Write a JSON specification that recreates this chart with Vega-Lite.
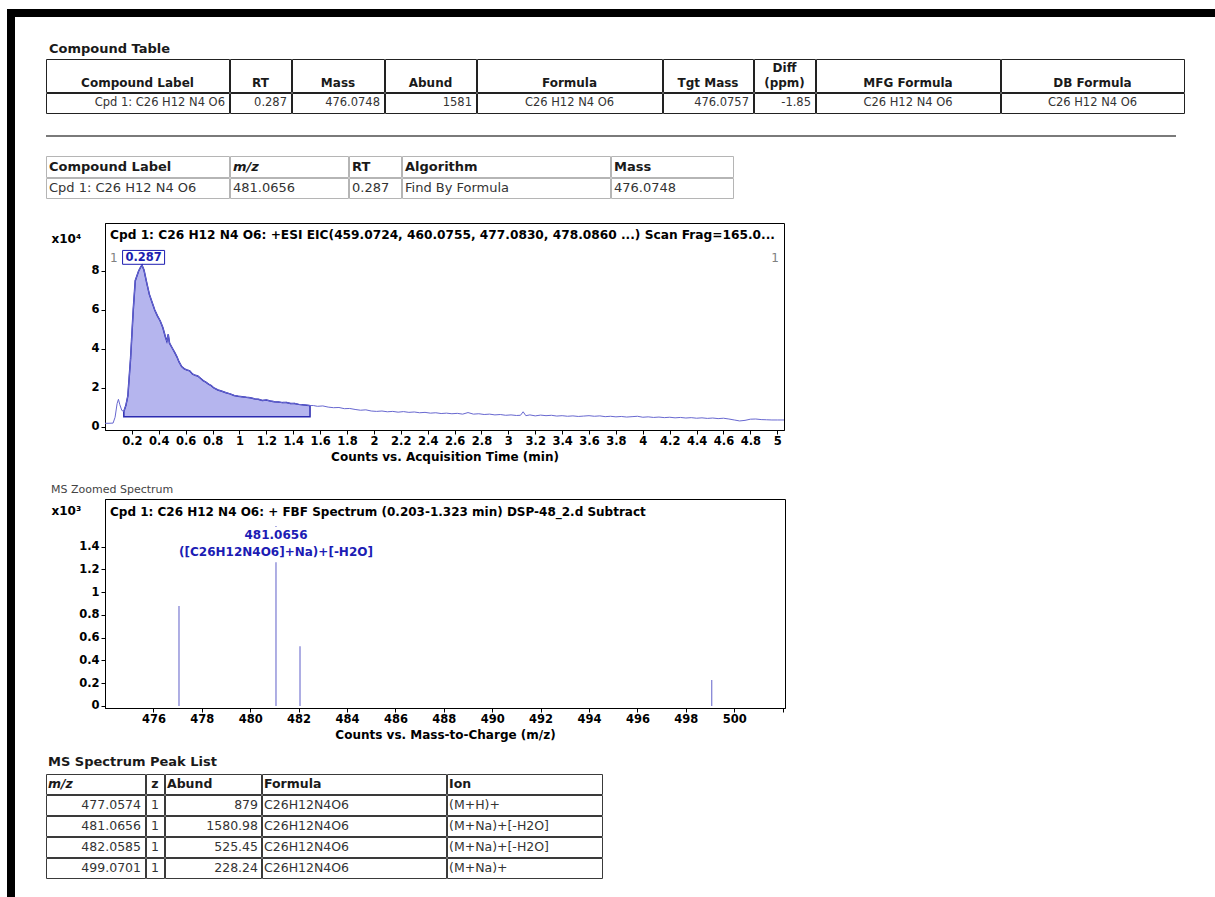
{
"$schema": "https://vega.github.io/schema/vega-lite/v6.json",
"background": "white",
"padding": {"left": 7, "top": 9, "right": 0, "bottom": 0},
"spacing": 0,
"config": {
 "view": {"stroke": "#3a3a3a", "strokeWidth": 1},
 "axis": {"labelFont": "DejaVu Sans", "labelFontWeight": "bold", "labelFontSize": 11.5, "labelColor": "#000", "titleFont": "DejaVu Sans", "titleFontWeight": "bold", "titleFontSize": 12, "titleColor": "#000", "tickColor": "#000", "domainColor": "#000", "grid": false, "tickSize": 4, "labelOverlap": false, "labelFlush": false},
 "style": {
  "sect": {"font": "DejaVu Sans", "fontSize": 13, "fontWeight": "bold", "color": "#1a1a1a", "fill": "#1a1a1a"},
  "note": {"font": "DejaVu Sans", "fontSize": 11, "color": "#444444", "fill": "#444444"},
  "th1": {"font": "DejaVu Sans", "fontSize": 12, "fontWeight": "bold", "color": "#1a1a1a", "fill": "#1a1a1a"},
  "td1": {"font": "DejaVu Sans", "fontSize": 11.5, "color": "#333333", "fill": "#333333"},
  "th2": {"font": "DejaVu Sans", "fontSize": 13, "fontWeight": "bold", "color": "#1a1a1a", "fill": "#1a1a1a"},
  "td2": {"font": "DejaVu Sans", "fontSize": 13, "color": "#333333", "fill": "#333333"},
  "th3": {"font": "DejaVu Sans", "fontSize": 12.5, "fontWeight": "bold", "color": "#1a1a1a", "fill": "#1a1a1a"},
  "td3": {"font": "DejaVu Sans", "fontSize": 12.5, "color": "#333333", "fill": "#333333"}
 }
},
"datasets": {
 "cpd": [{"label": "Cpd 1: C26 H12 N4 O6", "rt": 0.287, "mass": 476.0748, "abund": 1581, "formula": "C26 H12 N4 O6", "tgt_mass": 476.0757, "diff_ppm": -1.85, "mfg_formula": "C26 H12 N4 O6", "db_formula": "C26 H12 N4 O6", "mz": 481.0656, "algorithm": "Find By Formula"}],
 "peaks": [
  {"mz": 477.0574, "z": 1, "abund": 879, "formula": "C26H12N4O6", "ion": "(M+H)+"},
  {"mz": 481.0656, "z": 1, "abund": 1580.98, "formula": "C26H12N4O6", "ion": "(M+Na)+[-H2O]", "label": "([C26H12N4O6]+Na)+[-H2O]"},
  {"mz": 482.0585, "z": 1, "abund": 525.45, "formula": "C26H12N4O6", "ion": "(M+Na)+[-H2O]"},
  {"mz": 499.0701, "z": 1, "abund": 228.24, "formula": "C26H12N4O6", "ion": "(M+Na)+"}
 ],
 "eic": [
  {"time": 0, "counts": 1900}, {"time": 0.03, "counts": 1900}, {"time": 0.06, "counts": 2000}, {"time": 0.075, "counts": 5000},
  {"time": 0.09, "counts": 12000}, {"time": 0.1, "counts": 14200}, {"time": 0.11, "counts": 11500}, {"time": 0.125, "counts": 8500},
  {"time": 0.14, "counts": 8000}, {"time": 0.155, "counts": 11000}, {"time": 0.17, "counts": 16000}, {"time": 0.19, "counts": 35000},
  {"time": 0.21, "counts": 60000}, {"time": 0.225, "counts": 75000}, {"time": 0.25, "counts": 80000}, {"time": 0.265, "counts": 82000},
  {"time": 0.275, "counts": 83000}, {"time": 0.29, "counts": 80500}, {"time": 0.31, "counts": 74000}, {"time": 0.33, "counts": 68000},
  {"time": 0.35, "counts": 64000}, {"time": 0.37, "counts": 60000}, {"time": 0.39, "counts": 57000}, {"time": 0.41, "counts": 54500},
  {"time": 0.43, "counts": 51000}, {"time": 0.45, "counts": 46000}, {"time": 0.46, "counts": 44000}, {"time": 0.47, "counts": 47500},
  {"time": 0.48, "counts": 43000}, {"time": 0.5, "counts": 40500}, {"time": 0.52, "counts": 38000}, {"time": 0.535, "counts": 36000},
  {"time": 0.55, "counts": 33500}, {"time": 0.57, "counts": 31000}, {"time": 0.59, "counts": 29800}, {"time": 0.61, "counts": 29200},
  {"time": 0.63, "counts": 28800}, {"time": 0.65, "counts": 27200}, {"time": 0.67, "counts": 26500}, {"time": 0.69, "counts": 26200},
  {"time": 0.71, "counts": 25000}, {"time": 0.73, "counts": 23800}, {"time": 0.75, "counts": 23000}, {"time": 0.77, "counts": 22000},
  {"time": 0.79, "counts": 21200}, {"time": 0.81, "counts": 20000}, {"time": 0.84, "counts": 19000}, {"time": 0.87, "counts": 18300},
  {"time": 0.9, "counts": 17600}, {"time": 0.93, "counts": 17000}, {"time": 0.96, "counts": 16200}, {"time": 0.99, "counts": 15800},
  {"time": 1.02, "counts": 15500}, {"time": 1.05, "counts": 15200}, {"time": 1.08, "counts": 15000}, {"time": 1.11, "counts": 14500},
  {"time": 1.14, "counts": 14200}, {"time": 1.17, "counts": 13600}, {"time": 1.2, "counts": 13800}, {"time": 1.23, "counts": 13300},
  {"time": 1.26, "counts": 13000}, {"time": 1.29, "counts": 12800}, {"time": 1.32, "counts": 12500}, {"time": 1.35, "counts": 12600},
  {"time": 1.38, "counts": 12000}, {"time": 1.41, "counts": 12100}, {"time": 1.44, "counts": 11600}, {"time": 1.47, "counts": 11400},
  {"time": 1.5, "counts": 11200}, {"time": 1.525, "counts": 11000}, {"time": 1.55, "counts": 11000}, {"time": 1.58, "counts": 10600},
  {"time": 1.62, "counts": 10800}, {"time": 1.66, "counts": 10200}, {"time": 1.7, "counts": 9900}, {"time": 1.74, "counts": 10000},
  {"time": 1.78, "counts": 9400}, {"time": 1.82, "counts": 9500}, {"time": 1.86, "counts": 9000}, {"time": 1.9, "counts": 8600},
  {"time": 1.94, "counts": 8800}, {"time": 1.98, "counts": 8200}, {"time": 2.02, "counts": 8000}, {"time": 2.06, "counts": 8200},
  {"time": 2.1, "counts": 7800}, {"time": 2.14, "counts": 8000}, {"time": 2.18, "counts": 7600}, {"time": 2.22, "counts": 7900},
  {"time": 2.26, "counts": 7500}, {"time": 2.3, "counts": 7700}, {"time": 2.34, "counts": 7300}, {"time": 2.38, "counts": 7500},
  {"time": 2.42, "counts": 7100}, {"time": 2.46, "counts": 7300}, {"time": 2.5, "counts": 6900}, {"time": 2.54, "counts": 7100},
  {"time": 2.58, "counts": 6800}, {"time": 2.62, "counts": 7000}, {"time": 2.66, "counts": 6600}, {"time": 2.7, "counts": 7400},
  {"time": 2.74, "counts": 6600}, {"time": 2.78, "counts": 6800}, {"time": 2.82, "counts": 6400}, {"time": 2.86, "counts": 6600},
  {"time": 2.9, "counts": 6200}, {"time": 2.94, "counts": 6400}, {"time": 2.98, "counts": 6000}, {"time": 3.02, "counts": 6200},
  {"time": 3.06, "counts": 5900}, {"time": 3.09, "counts": 6000}, {"time": 3.11, "counts": 7800}, {"time": 3.13, "counts": 5800},
  {"time": 3.16, "counts": 6200}, {"time": 3.2, "counts": 5700}, {"time": 3.24, "counts": 6100}, {"time": 3.28, "counts": 5800},
  {"time": 3.32, "counts": 6000}, {"time": 3.36, "counts": 5600}, {"time": 3.4, "counts": 5800}, {"time": 3.44, "counts": 5500},
  {"time": 3.48, "counts": 5700}, {"time": 3.52, "counts": 5400}, {"time": 3.56, "counts": 5600}, {"time": 3.6, "counts": 5800},
  {"time": 3.64, "counts": 5500}, {"time": 3.68, "counts": 5700}, {"time": 3.72, "counts": 5300}, {"time": 3.76, "counts": 5500},
  {"time": 3.8, "counts": 5200}, {"time": 3.84, "counts": 5400}, {"time": 3.88, "counts": 5100}, {"time": 3.92, "counts": 5300},
  {"time": 3.96, "counts": 5500}, {"time": 4.0, "counts": 5000}, {"time": 4.04, "counts": 5200}, {"time": 4.08, "counts": 4900},
  {"time": 4.12, "counts": 5100}, {"time": 4.16, "counts": 4800}, {"time": 4.2, "counts": 5000}, {"time": 4.24, "counts": 4700},
  {"time": 4.28, "counts": 4900}, {"time": 4.32, "counts": 4600}, {"time": 4.36, "counts": 4800}, {"time": 4.4, "counts": 4500},
  {"time": 4.44, "counts": 4700}, {"time": 4.48, "counts": 4400}, {"time": 4.52, "counts": 4600}, {"time": 4.56, "counts": 4300},
  {"time": 4.6, "counts": 4500}, {"time": 4.64, "counts": 4100}, {"time": 4.68, "counts": 3600}, {"time": 4.72, "counts": 3100},
  {"time": 4.76, "counts": 3400}, {"time": 4.8, "counts": 4000}, {"time": 4.84, "counts": 4100}, {"time": 4.88, "counts": 3800},
  {"time": 4.92, "counts": 3700}, {"time": 4.96, "counts": 3600}, {"time": 5.0, "counts": 3600}, {"time": 5.05, "counts": 3600}
 ]
},
"vconcat": [
 {"width": 1208, "height": 8, "view": {"fill": "#000000", "stroke": null}, "data": {"values": []}, "mark": "point"},
 {"spacing": 30, "hconcat": [
  {"width": 8, "height": 880, "view": {"fill": "#000000", "stroke": null}, "data": {"values": []}, "mark": "point"},
  {"spacing": 0, "vconcat": [
   {"width": 1130, "height": 41, "view": {"stroke": null}, "data": {"values": [{"t": "Compound Table"}]},
    "mark": {"type": "text", "style": "sect", "align": "left", "baseline": "alphabetic", "dx": 3, "dy": -5},
    "encoding": {"text": {"field": "t", "type": "nominal"}, "x": {"datum": 0, "type": "quantitative", "scale": {"domain": [0, 1]}, "axis": null}, "y": {"datum": 0, "type": "quantitative", "scale": {"domain": [0, 1]}, "axis": null}}},
   {"spacing": -3, "vconcat": [
    {"spacing": -3, "data": {"values": [{"c1": "Compound Label", "c2": "RT", "c3": "Mass", "c4": "Abund", "c5": "Formula", "c6": "Tgt Mass", "c7": "Diff\n(ppm)", "c8": "MFG Formula", "c9": "DB Formula"}]}, "hconcat": [
     {"width": 183, "height": 33, "view": {"stroke": "#222222"}, "mark": {"type": "text", "style": "th1", "baseline": "bottom", "dy": 14}, "encoding": {"text": {"field": "c1", "type": "nominal"}, "x": {"datum": 0.5, "type": "quantitative", "scale": {"domain": [0, 1]}, "axis": null}}},
     {"width": 61, "height": 33, "view": {"stroke": "#222222"}, "mark": {"type": "text", "style": "th1", "baseline": "bottom", "dy": 14}, "encoding": {"text": {"field": "c2", "type": "nominal"}, "x": {"datum": 0.5, "type": "quantitative", "scale": {"domain": [0, 1]}, "axis": null}}},
     {"width": 92, "height": 33, "view": {"stroke": "#222222"}, "mark": {"type": "text", "style": "th1", "baseline": "bottom", "dy": 14}, "encoding": {"text": {"field": "c3", "type": "nominal"}, "x": {"datum": 0.5, "type": "quantitative", "scale": {"domain": [0, 1]}, "axis": null}}},
     {"width": 91, "height": 33, "view": {"stroke": "#222222"}, "mark": {"type": "text", "style": "th1", "baseline": "bottom", "dy": 14}, "encoding": {"text": {"field": "c4", "type": "nominal"}, "x": {"datum": 0.5, "type": "quantitative", "scale": {"domain": [0, 1]}, "axis": null}}},
     {"width": 185, "height": 33, "view": {"stroke": "#222222"}, "mark": {"type": "text", "style": "th1", "baseline": "bottom", "dy": 14}, "encoding": {"text": {"field": "c5", "type": "nominal"}, "x": {"datum": 0.5, "type": "quantitative", "scale": {"domain": [0, 1]}, "axis": null}}},
     {"width": 90, "height": 33, "view": {"stroke": "#222222"}, "mark": {"type": "text", "style": "th1", "baseline": "bottom", "dy": 14}, "encoding": {"text": {"field": "c6", "type": "nominal"}, "x": {"datum": 0.5, "type": "quantitative", "scale": {"domain": [0, 1]}, "axis": null}}},
     {"width": 61, "height": 33, "view": {"stroke": "#222222"}, "mark": {"type": "text", "style": "th1", "baseline": "bottom", "dy": -1, "lineBreak": "\n", "lineHeight": 15}, "encoding": {"text": {"field": "c7", "type": "nominal"}, "x": {"datum": 0.5, "type": "quantitative", "scale": {"domain": [0, 1]}, "axis": null}}},
     {"width": 184, "height": 33, "view": {"stroke": "#222222"}, "mark": {"type": "text", "style": "th1", "baseline": "bottom", "dy": 14}, "encoding": {"text": {"field": "c8", "type": "nominal"}, "x": {"datum": 0.5, "type": "quantitative", "scale": {"domain": [0, 1]}, "axis": null}}},
     {"width": 183, "height": 33, "view": {"stroke": "#222222"}, "mark": {"type": "text", "style": "th1", "baseline": "bottom", "dy": 14}, "encoding": {"text": {"field": "c9", "type": "nominal"}, "x": {"datum": 0.5, "type": "quantitative", "scale": {"domain": [0, 1]}, "axis": null}}}
    ]},
    {"spacing": -3, "data": {"name": "cpd"}, "hconcat": [
     {"width": 183, "height": 20, "view": {"stroke": "#222222"}, "mark": {"type": "text", "style": "td1", "align": "right", "dx": -4}, "encoding": {"text": {"field": "label", "type": "nominal"}, "x": {"datum": 1, "type": "quantitative", "scale": {"domain": [0, 1]}, "axis": null}}},
     {"width": 61, "height": 20, "view": {"stroke": "#222222"}, "mark": {"type": "text", "style": "td1", "align": "right", "dx": -4}, "encoding": {"text": {"field": "rt", "type": "nominal"}, "x": {"datum": 1, "type": "quantitative", "scale": {"domain": [0, 1]}, "axis": null}}},
     {"width": 92, "height": 20, "view": {"stroke": "#222222"}, "mark": {"type": "text", "style": "td1", "align": "right", "dx": -4}, "encoding": {"text": {"field": "mass", "type": "nominal"}, "x": {"datum": 1, "type": "quantitative", "scale": {"domain": [0, 1]}, "axis": null}}},
     {"width": 91, "height": 20, "view": {"stroke": "#222222"}, "mark": {"type": "text", "style": "td1", "align": "right", "dx": -4}, "encoding": {"text": {"field": "abund", "type": "nominal"}, "x": {"datum": 1, "type": "quantitative", "scale": {"domain": [0, 1]}, "axis": null}}},
     {"width": 185, "height": 20, "view": {"stroke": "#222222"}, "mark": {"type": "text", "style": "td1"}, "encoding": {"text": {"field": "formula", "type": "nominal"}, "x": {"datum": 0.5, "type": "quantitative", "scale": {"domain": [0, 1]}, "axis": null}}},
     {"width": 90, "height": 20, "view": {"stroke": "#222222"}, "mark": {"type": "text", "style": "td1", "align": "right", "dx": -4}, "encoding": {"text": {"field": "tgt_mass", "type": "nominal"}, "x": {"datum": 1, "type": "quantitative", "scale": {"domain": [0, 1]}, "axis": null}}},
     {"width": 61, "height": 20, "view": {"stroke": "#222222"}, "mark": {"type": "text", "style": "td1", "align": "right", "dx": -4}, "encoding": {"text": {"field": "diff_ppm", "type": "nominal"}, "x": {"datum": 1, "type": "quantitative", "scale": {"domain": [0, 1]}, "axis": null}}},
     {"width": 184, "height": 20, "view": {"stroke": "#222222"}, "mark": {"type": "text", "style": "td1"}, "encoding": {"text": {"field": "mfg_formula", "type": "nominal"}, "x": {"datum": 0.5, "type": "quantitative", "scale": {"domain": [0, 1]}, "axis": null}}},
     {"width": 183, "height": 20, "view": {"stroke": "#222222"}, "mark": {"type": "text", "style": "td1"}, "encoding": {"text": {"field": "db_formula", "type": "nominal"}, "x": {"datum": 0.5, "type": "quantitative", "scale": {"domain": [0, 1]}, "axis": null}}}
    ]}
   ]},
   {"width": 10, "height": 21, "view": {"stroke": null}, "data": {"values": []}, "mark": "point"},
   {"width": 1130, "height": 2, "view": {"stroke": null, "fill": "#7a7a7a"}, "data": {"values": []}, "mark": "point"},
   {"width": 10, "height": 18, "view": {"stroke": null}, "data": {"values": []}, "mark": "point"},
   {"spacing": -3, "vconcat": [
    {"spacing": -3, "data": {"values": [{"c1": "Compound Label", "c2": "m/z", "c3": "RT", "c4": "Algorithm", "c5": "Mass"}]}, "hconcat": [
     {"width": 183, "height": 21, "view": {"stroke": "#b5b5b5"}, "mark": {"type": "text", "style": "th2", "align": "left", "dx": 3}, "encoding": {"text": {"field": "c1", "type": "nominal"}, "x": {"datum": 0, "type": "quantitative", "scale": {"domain": [0, 1]}, "axis": null}}},
     {"width": 118, "height": 21, "view": {"stroke": "#b5b5b5"}, "mark": {"type": "text", "style": "th2", "align": "left", "dx": 3, "fontStyle": "italic"}, "encoding": {"text": {"field": "c2", "type": "nominal"}, "x": {"datum": 0, "type": "quantitative", "scale": {"domain": [0, 1]}, "axis": null}}},
     {"width": 52, "height": 21, "view": {"stroke": "#b5b5b5"}, "mark": {"type": "text", "style": "th2", "align": "left", "dx": 3}, "encoding": {"text": {"field": "c3", "type": "nominal"}, "x": {"datum": 0, "type": "quantitative", "scale": {"domain": [0, 1]}, "axis": null}}},
     {"width": 208, "height": 21, "view": {"stroke": "#b5b5b5"}, "mark": {"type": "text", "style": "th2", "align": "left", "dx": 3}, "encoding": {"text": {"field": "c4", "type": "nominal"}, "x": {"datum": 0, "type": "quantitative", "scale": {"domain": [0, 1]}, "axis": null}}},
     {"width": 122, "height": 21, "view": {"stroke": "#b5b5b5"}, "mark": {"type": "text", "style": "th2", "align": "left", "dx": 3}, "encoding": {"text": {"field": "c5", "type": "nominal"}, "x": {"datum": 0, "type": "quantitative", "scale": {"domain": [0, 1]}, "axis": null}}}
    ]},
    {"spacing": -3, "data": {"name": "cpd"}, "hconcat": [
     {"width": 183, "height": 20, "view": {"stroke": "#b5b5b5"}, "mark": {"type": "text", "style": "td2", "align": "left", "dx": 3}, "encoding": {"text": {"field": "label", "type": "nominal"}, "x": {"datum": 0, "type": "quantitative", "scale": {"domain": [0, 1]}, "axis": null}}},
     {"width": 118, "height": 20, "view": {"stroke": "#b5b5b5"}, "mark": {"type": "text", "style": "td2", "align": "left", "dx": 3}, "encoding": {"text": {"field": "mz", "type": "nominal"}, "x": {"datum": 0, "type": "quantitative", "scale": {"domain": [0, 1]}, "axis": null}}},
     {"width": 52, "height": 20, "view": {"stroke": "#b5b5b5"}, "mark": {"type": "text", "style": "td2", "align": "left", "dx": 3}, "encoding": {"text": {"field": "rt", "type": "nominal"}, "x": {"datum": 0, "type": "quantitative", "scale": {"domain": [0, 1]}, "axis": null}}},
     {"width": 208, "height": 20, "view": {"stroke": "#b5b5b5"}, "mark": {"type": "text", "style": "td2", "align": "left", "dx": 3}, "encoding": {"text": {"field": "algorithm", "type": "nominal"}, "x": {"datum": 0, "type": "quantitative", "scale": {"domain": [0, 1]}, "axis": null}}},
     {"width": 122, "height": 20, "view": {"stroke": "#b5b5b5"}, "mark": {"type": "text", "style": "td2", "align": "left", "dx": 3}, "encoding": {"text": {"field": "mass", "type": "nominal"}, "x": {"datum": 0, "type": "quantitative", "scale": {"domain": [0, 1]}, "axis": null}}}
    ]}
   ]},
   {"width": 10, "height": 23, "view": {"stroke": null}, "data": {"values": []}, "mark": "point"},
   {"spacing": 0, "hconcat": [
    {"width": 4, "height": 10, "view": {"stroke": null}, "data": {"values": []}, "mark": "point"},
    {"width": 679, "height": 207, "view": {"stroke": "#000000"}, "data": {"name": "eic"},
     "layer": [
      {"transform": [{"filter": "datum.time >= 0.14 && datum.time <= 1.525"}],
       "mark": {"type": "area", "fill": "#b5b5ee", "stroke": "#2a2ab0", "strokeWidth": 1.5, "opacity": 1},
       "encoding": {
        "x": {"field": "time", "type": "quantitative", "scale": {"domain": [0, 5.05], "nice": false, "zero": false},
              "axis": {"values": [0.2, 0.4, 0.6, 0.8, 1, 1.2, 1.4, 1.6, 1.8, 2, 2.2, 2.4, 2.6, 2.8, 3, 3.2, 3.4, 3.6, 3.8, 4, 4.2, 4.4, 4.6, 4.8, 5], "tickCount": 100, "format": "~g", "labelOverlap": false, "labelFlush": false, "title": "Counts vs. Acquisition Time (min)", "labelPadding": 1, "titlePadding": 5}},
        "y": {"field": "counts", "type": "quantitative", "scale": {"domain": [-1540, 104600], "nice": false, "zero": false},
              "axis": {"values": [0, 20000, 40000, 60000, 80000], "tickCount": 100, "labelExpr": "format(datum.value / 10000, '~g')", "labelOverlap": false, "title": "x10⁴", "titleAngle": 0, "titleAlign": "left", "titleBaseline": "middle", "titleX": -54, "titleY": 15, "titleFontSize": 12, "labelPadding": 2}},
        "y2": {"datum": 5300}
       }},
      {"mark": {"type": "line", "color": "#6868d0", "strokeWidth": 1},
       "encoding": {"x": {"field": "time", "type": "quantitative"}, "y": {"field": "counts", "type": "quantitative"}}},
      {"data": {"values": [{"t": "Cpd 1: C26 H12 N4 O6: +ESI EIC(459.0724, 460.0755, 477.0830, 478.0860 ...) Scan Frag=165.0..."}]},
       "mark": {"type": "text", "font": "DejaVu Sans", "fontSize": 12.2, "fontWeight": "bold", "color": "#000000", "align": "left", "baseline": "middle", "dx": 5, "dy": 12},
       "encoding": {"x": {"datum": 0, "type": "quantitative"}, "y": {"datum": 104600, "type": "quantitative"}, "text": {"field": "t", "type": "nominal"}}},
      {"data": {"values": [{"n": 1}]},
       "mark": {"type": "text", "font": "DejaVu Sans", "fontSize": 12, "color": "#808080", "align": "left", "baseline": "middle", "dx": 5, "dy": 35},
       "encoding": {"x": {"datum": 0, "type": "quantitative"}, "y": {"datum": 104600, "type": "quantitative"}, "text": {"field": "n", "type": "nominal"}}},
      {"data": {"values": [{"n": 1}]},
       "mark": {"type": "text", "font": "DejaVu Sans", "fontSize": 12, "color": "#808080", "align": "right", "baseline": "middle", "dx": -5, "dy": 35},
       "encoding": {"x": {"datum": 5.05, "type": "quantitative"}, "y": {"datum": 104600, "type": "quantitative"}, "text": {"field": "n", "type": "nominal"}}},
      {"data": {"name": "cpd"},
       "mark": {"type": "point", "shape": "M-1,-0.7L1,-0.7L1,-0.04L-1,-0.04Z", "size": 1764, "filled": false, "color": "#1c1cb0", "strokeWidth": 1, "opacity": 1},
       "encoding": {"x": {"field": "rt", "type": "quantitative"}, "y": {"datum": 83000, "type": "quantitative"}}},
      {"data": {"name": "cpd"},
       "mark": {"type": "text", "font": "DejaVu Sans", "fontSize": 11.5, "fontWeight": "bold", "color": "#1c1cb0", "baseline": "bottom", "dy": -2},
       "encoding": {"x": {"field": "rt", "type": "quantitative"}, "y": {"datum": 83000, "type": "quantitative"}, "text": {"field": "rt", "type": "nominal"}}}
     ]}
   ]},
   {"width": 400, "height": 35, "view": {"stroke": null}, "data": {"values": [{"t": "MS Zoomed Spectrum"}]},
    "mark": {"type": "text", "style": "note", "align": "left", "baseline": "alphabetic", "dx": 5, "dy": -5},
    "encoding": {"text": {"field": "t", "type": "nominal"}, "x": {"datum": 0, "type": "quantitative", "scale": {"domain": [0, 1]}, "axis": null}, "y": {"datum": 0, "type": "quantitative", "scale": {"domain": [0, 1]}, "axis": null}}},
   {"spacing": 0, "hconcat": [
    {"width": 4, "height": 10, "view": {"stroke": null}, "data": {"values": []}, "mark": "point"},
    {"width": 680, "height": 209, "view": {"stroke": "#000000"}, "data": {"name": "peaks"},
     "layer": [
      {"mark": {"type": "rule", "color": "#8c8cd8", "strokeWidth": 1.4},
       "encoding": {
        "x": {"field": "mz", "type": "quantitative", "scale": {"domain": [474, 502.1], "nice": false, "zero": false},
              "axis": {"values": [476, 478, 480, 482, 484, 486, 488, 490, 492, 494, 496, 498, 500, 502], "tickCount": 100, "format": "d", "labelExpr": "datum.value > 501 ? '' : datum.label", "labelOverlap": false, "labelFlush": false, "title": "Counts vs. Mass-to-Charge (m/z)", "labelPadding": 1, "titlePadding": 5}},
        "y": {"field": "abund", "type": "quantitative", "scale": {"domain": [-17.6, 1819], "nice": false, "zero": false},
              "axis": {"values": [0, 200, 400, 600, 800, 1000, 1200, 1400], "tickCount": 100, "labelExpr": "format(datum.value / 1000, '~g')", "labelOverlap": false, "title": "x10³", "titleAngle": 0, "titleAlign": "left", "titleBaseline": "middle", "titleX": -54, "titleY": 11, "titleFontSize": 12, "labelPadding": 2}},
        "y2": {"datum": 0}
       }},
      {"transform": [{"filter": "datum.label != null"}],
       "mark": {"type": "point", "shape": "M-1,0.01L1,0.01L1,0.37L-1,0.37Z", "size": 38416, "filled": true, "color": "#ffffff", "fill": "#ffffff", "opacity": 1, "strokeWidth": 0},
       "encoding": {"x": {"field": "mz", "type": "quantitative"}, "y": {"field": "abund", "type": "quantitative"}}},
      {"transform": [{"filter": "datum.label != null"}],
       "mark": {"type": "text", "font": "DejaVu Sans", "fontSize": 12, "fontWeight": "bold", "color": "#1c1cb4", "baseline": "top", "dy": 4},
       "encoding": {"x": {"field": "mz", "type": "quantitative"}, "y": {"field": "abund", "type": "quantitative"}, "text": {"field": "mz", "type": "nominal"}}},
      {"transform": [{"filter": "datum.label != null"}],
       "mark": {"type": "text", "font": "DejaVu Sans", "fontSize": 12, "fontWeight": "bold", "color": "#1c1cb4", "baseline": "top", "dy": 21},
       "encoding": {"x": {"field": "mz", "type": "quantitative"}, "y": {"field": "abund", "type": "quantitative"}, "text": {"field": "label", "type": "nominal"}}},
      {"data": {"values": [{"t": "Cpd 1: C26 H12 N4 O6: + FBF Spectrum (0.203-1.323 min) DSP-48_2.d  Subtract"}]},
       "mark": {"type": "text", "font": "DejaVu Sans", "fontSize": 12, "fontWeight": "bold", "color": "#000000", "align": "left", "baseline": "middle", "dx": 5, "dy": 13},
       "encoding": {"x": {"datum": 474, "type": "quantitative"}, "y": {"datum": 1819, "type": "quantitative"}, "text": {"field": "t", "type": "nominal"}}}
     ]}
   ]},
   {"width": 400, "height": 32, "view": {"stroke": null}, "data": {"values": [{"t": "MS Spectrum Peak List"}]},
    "mark": {"type": "text", "style": "sect", "align": "left", "baseline": "alphabetic", "dx": 2, "dy": -7},
    "encoding": {"text": {"field": "t", "type": "nominal"}, "x": {"datum": 0, "type": "quantitative", "scale": {"domain": [0, 1]}, "axis": null}, "y": {"datum": 0, "type": "quantitative", "scale": {"domain": [0, 1]}, "axis": null}}},
   {"spacing": -3, "vconcat": [
    {"spacing": -3, "data": {"values": [{"c1": "m/z", "c2": "z", "c3": "Abund", "c4": "Formula", "c5": "Ion"}]}, "hconcat": [
     {"width": 99, "height": 20, "mark": {"type": "text", "style": "th3", "align": "left", "dx": 2, "fontStyle": "italic"}, "encoding": {"text": {"field": "c1", "type": "nominal"}, "x": {"datum": 0, "type": "quantitative", "scale": {"domain": [0, 1]}, "axis": null}}},
     {"width": 18, "height": 20, "mark": {"type": "text", "style": "th3"}, "encoding": {"text": {"field": "c2", "type": "nominal"}, "x": {"datum": 0.5, "type": "quantitative", "scale": {"domain": [0, 1]}, "axis": null}}},
     {"width": 96, "height": 20, "mark": {"type": "text", "style": "th3", "align": "left", "dx": 2}, "encoding": {"text": {"field": "c3", "type": "nominal"}, "x": {"datum": 0, "type": "quantitative", "scale": {"domain": [0, 1]}, "axis": null}}},
     {"width": 184, "height": 20, "mark": {"type": "text", "style": "th3", "align": "left", "dx": 2}, "encoding": {"text": {"field": "c4", "type": "nominal"}, "x": {"datum": 0, "type": "quantitative", "scale": {"domain": [0, 1]}, "axis": null}}},
     {"width": 155, "height": 20, "mark": {"type": "text", "style": "th3", "align": "left", "dx": 2}, "encoding": {"text": {"field": "c5", "type": "nominal"}, "x": {"datum": 0, "type": "quantitative", "scale": {"domain": [0, 1]}, "axis": null}}}
    ]},
    {"spacing": -3, "data": {"name": "peaks"}, "transform": [{"filter": "datum.mz == 477.0574"}], "hconcat": [
     {"width": 99, "height": 20, "mark": {"type": "text", "style": "td3", "align": "right", "dx": -4}, "encoding": {"text": {"field": "mz", "type": "nominal"}, "x": {"datum": 1, "type": "quantitative", "scale": {"domain": [0, 1]}, "axis": null}}},
     {"width": 18, "height": 20, "mark": {"type": "text", "style": "td3"}, "encoding": {"text": {"field": "z", "type": "nominal"}, "x": {"datum": 0.5, "type": "quantitative", "scale": {"domain": [0, 1]}, "axis": null}}},
     {"width": 96, "height": 20, "mark": {"type": "text", "style": "td3", "align": "right", "dx": -3}, "encoding": {"text": {"field": "abund", "type": "nominal"}, "x": {"datum": 1, "type": "quantitative", "scale": {"domain": [0, 1]}, "axis": null}}},
     {"width": 184, "height": 20, "mark": {"type": "text", "style": "td3", "align": "left", "dx": 2}, "encoding": {"text": {"field": "formula", "type": "nominal"}, "x": {"datum": 0, "type": "quantitative", "scale": {"domain": [0, 1]}, "axis": null}}},
     {"width": 155, "height": 20, "mark": {"type": "text", "style": "td3", "align": "left", "dx": 2}, "encoding": {"text": {"field": "ion", "type": "nominal"}, "x": {"datum": 0, "type": "quantitative", "scale": {"domain": [0, 1]}, "axis": null}}}
    ]},
    {"spacing": -3, "data": {"name": "peaks"}, "transform": [{"filter": "datum.mz == 481.0656"}], "hconcat": [
     {"width": 99, "height": 20, "mark": {"type": "text", "style": "td3", "align": "right", "dx": -4}, "encoding": {"text": {"field": "mz", "type": "nominal"}, "x": {"datum": 1, "type": "quantitative", "scale": {"domain": [0, 1]}, "axis": null}}},
     {"width": 18, "height": 20, "mark": {"type": "text", "style": "td3"}, "encoding": {"text": {"field": "z", "type": "nominal"}, "x": {"datum": 0.5, "type": "quantitative", "scale": {"domain": [0, 1]}, "axis": null}}},
     {"width": 96, "height": 20, "mark": {"type": "text", "style": "td3", "align": "right", "dx": -3}, "encoding": {"text": {"field": "abund", "type": "nominal"}, "x": {"datum": 1, "type": "quantitative", "scale": {"domain": [0, 1]}, "axis": null}}},
     {"width": 184, "height": 20, "mark": {"type": "text", "style": "td3", "align": "left", "dx": 2}, "encoding": {"text": {"field": "formula", "type": "nominal"}, "x": {"datum": 0, "type": "quantitative", "scale": {"domain": [0, 1]}, "axis": null}}},
     {"width": 155, "height": 20, "mark": {"type": "text", "style": "td3", "align": "left", "dx": 2}, "encoding": {"text": {"field": "ion", "type": "nominal"}, "x": {"datum": 0, "type": "quantitative", "scale": {"domain": [0, 1]}, "axis": null}}}
    ]},
    {"spacing": -3, "data": {"name": "peaks"}, "transform": [{"filter": "datum.mz == 482.0585"}], "hconcat": [
     {"width": 99, "height": 20, "mark": {"type": "text", "style": "td3", "align": "right", "dx": -4}, "encoding": {"text": {"field": "mz", "type": "nominal"}, "x": {"datum": 1, "type": "quantitative", "scale": {"domain": [0, 1]}, "axis": null}}},
     {"width": 18, "height": 20, "mark": {"type": "text", "style": "td3"}, "encoding": {"text": {"field": "z", "type": "nominal"}, "x": {"datum": 0.5, "type": "quantitative", "scale": {"domain": [0, 1]}, "axis": null}}},
     {"width": 96, "height": 20, "mark": {"type": "text", "style": "td3", "align": "right", "dx": -3}, "encoding": {"text": {"field": "abund", "type": "nominal"}, "x": {"datum": 1, "type": "quantitative", "scale": {"domain": [0, 1]}, "axis": null}}},
     {"width": 184, "height": 20, "mark": {"type": "text", "style": "td3", "align": "left", "dx": 2}, "encoding": {"text": {"field": "formula", "type": "nominal"}, "x": {"datum": 0, "type": "quantitative", "scale": {"domain": [0, 1]}, "axis": null}}},
     {"width": 155, "height": 20, "mark": {"type": "text", "style": "td3", "align": "left", "dx": 2}, "encoding": {"text": {"field": "ion", "type": "nominal"}, "x": {"datum": 0, "type": "quantitative", "scale": {"domain": [0, 1]}, "axis": null}}}
    ]},
    {"spacing": -3, "data": {"name": "peaks"}, "transform": [{"filter": "datum.mz == 499.0701"}], "hconcat": [
     {"width": 99, "height": 20, "mark": {"type": "text", "style": "td3", "align": "right", "dx": -4}, "encoding": {"text": {"field": "mz", "type": "nominal"}, "x": {"datum": 1, "type": "quantitative", "scale": {"domain": [0, 1]}, "axis": null}}},
     {"width": 18, "height": 20, "mark": {"type": "text", "style": "td3"}, "encoding": {"text": {"field": "z", "type": "nominal"}, "x": {"datum": 0.5, "type": "quantitative", "scale": {"domain": [0, 1]}, "axis": null}}},
     {"width": 96, "height": 20, "mark": {"type": "text", "style": "td3", "align": "right", "dx": -3}, "encoding": {"text": {"field": "abund", "type": "nominal"}, "x": {"datum": 1, "type": "quantitative", "scale": {"domain": [0, 1]}, "axis": null}}},
     {"width": 184, "height": 20, "mark": {"type": "text", "style": "td3", "align": "left", "dx": 2}, "encoding": {"text": {"field": "formula", "type": "nominal"}, "x": {"datum": 0, "type": "quantitative", "scale": {"domain": [0, 1]}, "axis": null}}},
     {"width": 155, "height": 20, "mark": {"type": "text", "style": "td3", "align": "left", "dx": 2}, "encoding": {"text": {"field": "ion", "type": "nominal"}, "x": {"datum": 0, "type": "quantitative", "scale": {"domain": [0, 1]}, "axis": null}}}
    ]}
   ]}
  ]}
 ]}
]
}
